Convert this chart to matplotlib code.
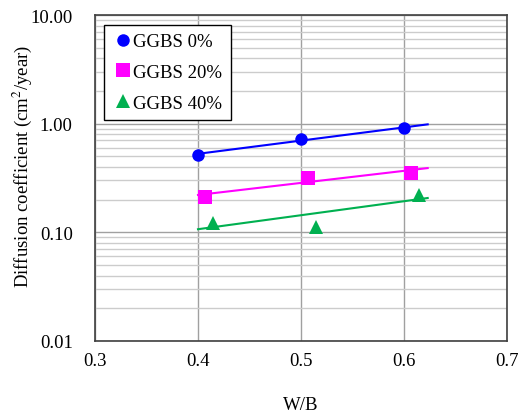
import numpy as np
import matplotlib
matplotlib.use("Agg")
import matplotlib.pyplot as plt
from matplotlib.ticker import FixedLocator, LogLocator, NullFormatter

plt.rcParams['font.family'] = ['Liberation Serif', 'DejaVu Serif']
plt.rcParams['mathtext.fontset'] = 'stix'

# Data
wb = [0.4, 0.5, 0.6]
labels = ["GGBS 0%", "GGBS 20%", "GGBS 40%"]
x_shift = [0.0, 0.007, 0.015]          # markers were nudged sideways in the original
diff_0 = [0.52, 0.72, 0.91]
diff_20 = [0.21, 0.315, 0.35]
diff_40 = [0.121, 0.112, 0.219]
series = [diff_0, diff_20, diff_40]

colors = ["#0000FF", "#FF00FF", "#00B050"]
markers = ["o", "s", "^"]
sizes = [9, 9.5, 10.5]
FS = 13.5

fig = plt.figure(figsize=(5.19, 4.14), dpi=100)
ax = fig.add_axes([95 / 519, 1 - 342 / 414, 412 / 519, 326 / 414])

for vals, lab, c, m, s, dx in zip(series, labels, colors, markers, sizes, x_shift):
    xs = np.array(wb) + dx
    # exponential trend line (Excel style), forecast a little forward
    k, b = np.polyfit(wb, np.log10(vals), 1)
    xt = np.array([0.4, 0.623])
    ax.plot(xt, 10 ** (k * xt + b), color=c, lw=1.5, zorder=3)
    ax.plot(xs, vals, linestyle="none", marker=m, color=c, markersize=s,
            markeredgewidth=0, label=lab, zorder=4)

ax.set_yscale("log")
ax.set_xlim(0.3, 0.7)
ax.set_ylim(0.01, 10)
ax.xaxis.set_major_locator(FixedLocator([0.3, 0.4, 0.5, 0.6, 0.7]))
ax.set_xticklabels(["0.3", "0.4", "0.5", "0.6", "0.7"])
ax.yaxis.set_major_locator(FixedLocator([0.01, 0.1, 1, 10]))
ax.set_yticklabels(["0.01", "0.10", "1.00", "10.00"])
ax.yaxis.set_minor_locator(LogLocator(base=10, subs=np.arange(2, 10)))
ax.yaxis.set_minor_formatter(NullFormatter())

ax.grid(True, which="major", axis="both", color="#A0A0A0", lw=1.0, zorder=1)
ax.grid(True, which="minor", axis="y", color="#CCCCCC", lw=1.0, zorder=1)
ax.tick_params(axis="both", which="both", length=0, labelsize=FS)
ax.tick_params(axis="y", pad=16)
ax.tick_params(axis="x", pad=8)
for sp in ax.spines.values():
    sp.set_color("#404040")
    sp.set_linewidth(1.2)

ax.set_xlabel("W/B", fontsize=FS, va="center")
ax.xaxis.set_label_coords(0.5, (342 - 406) / 326)
ax.set_ylabel("Diffusion coefficient (cm$^2$/year)", fontsize=FS, va="center")
ax.yaxis.set_label_coords((22 - 95) / 412, (342 - 166) / 326)

leg = ax.legend(loc="upper left", bbox_to_anchor=(0.022, 0.97), fontsize=FS,
                frameon=True, fancybox=False, handletextpad=0.0, handlelength=1.1,
                borderpad=0.45, labelspacing=0.72, borderaxespad=0)
leg.get_frame().set_edgecolor("black")
leg.get_frame().set_linewidth(1.0)
leg.get_frame().set_alpha(1)

fig.savefig("out.png", dpi=100)
